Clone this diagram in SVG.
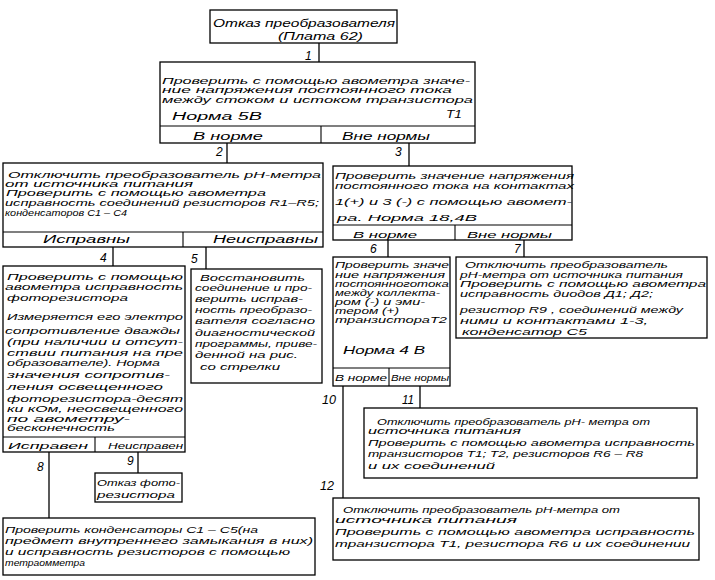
<svg xmlns="http://www.w3.org/2000/svg" width="715" height="580" viewBox="0 0 715 580">
<style>
.b{fill:#fff;stroke:#000;stroke-width:1.3}
.d{stroke:#000;stroke-width:1.1;fill:none}
.c{stroke:#000;stroke-width:1.3;fill:none}
text{font-family:"Liberation Sans","DejaVu Sans",sans-serif;font-style:italic;font-size:9px;fill:#000}
.n{font-size:12px}
</style>
<rect width="715" height="580" fill="#fff"/>

<g id="connectors">
<line class="c" x1="319" y1="43" x2="319" y2="62"/>
<line class="c" x1="227" y1="143" x2="227" y2="163"/>
<line class="c" x1="409" y1="143" x2="409" y2="166"/>
<line class="c" x1="113" y1="247" x2="113" y2="266"/>
<line class="c" x1="206" y1="247" x2="206" y2="269"/>
<line class="c" x1="388" y1="240" x2="388" y2="257"/>
<line class="c" x1="524" y1="240" x2="524" y2="257"/>
<line class="c" x1="343" y1="386" x2="343" y2="498"/>
<line class="c" x1="420" y1="386" x2="420" y2="408"/>
<line class="c" x1="49" y1="452" x2="49" y2="518"/>
<line class="c" x1="138" y1="452" x2="138" y2="473"/>
<text class="n" x="305" y="60">1</text>
<text class="n" x="216" y="156">2</text>
<text class="n" x="395" y="156">3</text>
<text class="n" x="100" y="262">4</text>
<text class="n" x="191" y="263">5</text>
<text class="n" x="370" y="253">6</text>
<text class="n" x="514" y="253">7</text>
<text class="n" x="37" y="471">8</text>
<text class="n" x="127" y="465">9</text>
<text class="n" x="322" y="404" textLength="14" lengthAdjust="spacingAndGlyphs">10</text>
<text class="n" x="402" y="404" textLength="12" lengthAdjust="spacingAndGlyphs">11</text>
<text class="n" x="320" y="490" textLength="14" lengthAdjust="spacingAndGlyphs">12</text>
</g>

<g id="node0">
<rect class="b" x="210" y="10" width="187" height="33"/>
<text x="213" y="27" textLength="182" lengthAdjust="spacingAndGlyphs" style="font-size:10px">Отказ преобразователя</text>
<text x="278" y="40" textLength="85" lengthAdjust="spacingAndGlyphs" style="font-size:10px">(Плата 62)</text>
</g>

<g id="node1">
<rect class="b" x="160" y="62" width="315" height="81"/>
<line class="d" x1="160" y1="126" x2="475" y2="126"/>
<line class="d" x1="321" y1="126" x2="321" y2="143"/>
<text x="162" y="84" textLength="308" lengthAdjust="spacingAndGlyphs">Проверить с помощью авометра значе-</text>
<text x="162" y="93" textLength="290" lengthAdjust="spacingAndGlyphs">ние напряжения постоянного тока</text>
<text x="162" y="103" textLength="311" lengthAdjust="spacingAndGlyphs">между стоком и истоком транзистора</text>
<text x="172" y="120" textLength="90" lengthAdjust="spacingAndGlyphs" style="font-size:10px">Норма  5В</text>
<text x="446" y="118" textLength="16" lengthAdjust="spacingAndGlyphs" style="font-size:11px">Т1</text>
<text x="193" y="140" textLength="70" lengthAdjust="spacingAndGlyphs" style="font-size:10px">В норме</text>
<text x="342" y="140" textLength="88" lengthAdjust="spacingAndGlyphs" style="font-size:10px">Вне нормы</text>
</g>

<g id="node2">
<rect class="b" x="3" y="163" width="320" height="84"/>
<line class="d" x1="3" y1="232" x2="323" y2="232"/>
<line class="d" x1="183" y1="232" x2="183" y2="247"/>
<text x="8" y="178" textLength="313" lengthAdjust="spacingAndGlyphs">Отключить преобразователь pH-метра</text>
<text x="5" y="187" textLength="188" lengthAdjust="spacingAndGlyphs">от источника питания</text>
<text x="6" y="196" textLength="260" lengthAdjust="spacingAndGlyphs">Проверить с помощью авометра</text>
<text x="5" y="206" textLength="314" lengthAdjust="spacingAndGlyphs">исправность соединений резисторов R1–R5;</text>
<text x="5" y="216" textLength="122" lengthAdjust="spacingAndGlyphs">конденсаторов C1 – C4</text>
<text x="43" y="243" textLength="87" lengthAdjust="spacingAndGlyphs" style="font-size:10px">Исправны</text>
<text x="213" y="243" textLength="105" lengthAdjust="spacingAndGlyphs" style="font-size:10px">Неисправны</text>
</g>

<g id="node3">
<rect class="b" x="333" y="166" width="239" height="74"/>
<line class="d" x1="333" y1="225" x2="572" y2="225"/>
<line class="d" x1="455" y1="225" x2="455" y2="240"/>
<text x="335" y="179" textLength="239" lengthAdjust="spacingAndGlyphs">Проверить значение напряжения</text>
<text x="335" y="189" textLength="239" lengthAdjust="spacingAndGlyphs">постоянного тока на контактах</text>
<text x="335" y="205" textLength="237" lengthAdjust="spacingAndGlyphs">1(+) и 3 (-) с помощью авомет-</text>
<text x="337" y="221" textLength="140" lengthAdjust="spacingAndGlyphs">ра.  Норма   18,4В</text>
<text x="353" y="238" textLength="64" lengthAdjust="spacingAndGlyphs">В норме</text>
<text x="467" y="238" textLength="85" lengthAdjust="spacingAndGlyphs">Вне нормы</text>
</g>

<g id="node4">
<rect class="b" x="3" y="266" width="182" height="186"/>
<line class="d" x1="3" y1="437" x2="185" y2="437"/>
<line class="d" x1="95" y1="437" x2="95" y2="452"/>
<text x="7" y="280" textLength="176" lengthAdjust="spacingAndGlyphs">Проверить с помощью</text>
<text x="5" y="290" textLength="178" lengthAdjust="spacingAndGlyphs">авометра исправность</text>
<text x="7" y="301" textLength="121" lengthAdjust="spacingAndGlyphs">фоторезистора</text>
<text x="7" y="320" textLength="176" lengthAdjust="spacingAndGlyphs">Измеряется его электро</text>
<text x="5" y="334" textLength="175" lengthAdjust="spacingAndGlyphs">сопротивление дважды</text>
<text x="7" y="345" textLength="176" lengthAdjust="spacingAndGlyphs">(при наличии и отсут-</text>
<text x="7" y="356" textLength="176" lengthAdjust="spacingAndGlyphs">ствии питания на пре</text>
<text x="7" y="366" textLength="153" lengthAdjust="spacingAndGlyphs">образователе). Норма</text>
<text x="7" y="378" textLength="163" lengthAdjust="spacingAndGlyphs">значения сопротив-</text>
<text x="7" y="390" textLength="156" lengthAdjust="spacingAndGlyphs">ления освещенного</text>
<text x="7" y="402" textLength="176" lengthAdjust="spacingAndGlyphs">фоторезистора-десят</text>
<text x="7" y="412" textLength="176" lengthAdjust="spacingAndGlyphs">ки кОм, неосвещенного</text>
<text x="7" y="422" textLength="123" lengthAdjust="spacingAndGlyphs">по авометру-</text>
<text x="7" y="431" textLength="108" lengthAdjust="spacingAndGlyphs">бесконечность</text>
<text x="8" y="449" textLength="80" lengthAdjust="spacingAndGlyphs">Исправен</text>
<text x="108" y="449" textLength="75" lengthAdjust="spacingAndGlyphs">Неисправен</text>
</g>

<g id="node5">
<rect class="b" x="191" y="269" width="131" height="114"/>
<text x="200" y="281" textLength="105" lengthAdjust="spacingAndGlyphs">Восстановить</text>
<text x="195" y="291" textLength="117" lengthAdjust="spacingAndGlyphs">соединение и про-</text>
<text x="195" y="302" textLength="108" lengthAdjust="spacingAndGlyphs">верить исправ-</text>
<text x="195" y="313" textLength="117" lengthAdjust="spacingAndGlyphs">ность преобразо-</text>
<text x="195" y="324" textLength="120" lengthAdjust="spacingAndGlyphs">вателя согласно</text>
<text x="195" y="336" textLength="120" lengthAdjust="spacingAndGlyphs">диагностической</text>
<text x="195" y="347" textLength="122" lengthAdjust="spacingAndGlyphs">программы, приве-</text>
<text x="195" y="358" textLength="103" lengthAdjust="spacingAndGlyphs">денной на рис.</text>
<text x="200" y="370" textLength="80" lengthAdjust="spacingAndGlyphs">со стрелки</text>
</g>

<g id="node6">
<rect class="b" x="333" y="257" width="117" height="129"/>
<line class="d" x1="333" y1="368" x2="450" y2="368"/>
<line class="d" x1="389" y1="368" x2="389" y2="386"/>
<text x="335" y="268" textLength="114" lengthAdjust="spacingAndGlyphs">Проверить значе</text>
<text x="335" y="278" textLength="110" lengthAdjust="spacingAndGlyphs">ние напряжения</text>
<text x="335" y="287" textLength="114" lengthAdjust="spacingAndGlyphs">постоянноготока</text>
<text x="335" y="296" textLength="105" lengthAdjust="spacingAndGlyphs">между коллекта-</text>
<text x="335" y="305" textLength="90" lengthAdjust="spacingAndGlyphs">ром (-) и эми-</text>
<text x="335" y="314" textLength="64" lengthAdjust="spacingAndGlyphs">тером (+)</text>
<text x="335" y="323" textLength="112" lengthAdjust="spacingAndGlyphs">транзистораТ2</text>
<text x="343" y="354" textLength="82" lengthAdjust="spacingAndGlyphs" style="font-size:10.5px">Норма   4 В</text>
<text x="335" y="381" textLength="52" lengthAdjust="spacingAndGlyphs">В норме</text>
<text x="391" y="381" textLength="58" lengthAdjust="spacingAndGlyphs">Вне нормы</text>
</g>

<g id="node7">
<rect class="b" x="456" y="257" width="251" height="81"/>
<text x="465" y="268" textLength="203" lengthAdjust="spacingAndGlyphs">Отключить преобразователь</text>
<text x="460" y="278" textLength="223" lengthAdjust="spacingAndGlyphs">pH-метра от источника питания</text>
<text x="460" y="287" textLength="246" lengthAdjust="spacingAndGlyphs">Проверить с помощью авометра</text>
<text x="460" y="297" textLength="193" lengthAdjust="spacingAndGlyphs">исправность диодов Д1; Д2;</text>
<text x="460" y="313" textLength="223" lengthAdjust="spacingAndGlyphs">резистор R9 , соединений между</text>
<text x="460" y="324" textLength="188" lengthAdjust="spacingAndGlyphs">ними и контактами 1-3,</text>
<text x="462" y="335" textLength="125" lengthAdjust="spacingAndGlyphs">конденсатор  С5</text>
</g>

<g id="node11">
<rect class="b" x="364" y="408" width="333" height="70"/>
<text x="377" y="425" textLength="273" lengthAdjust="spacingAndGlyphs">Отключить преобразователь pH- метра от</text>
<text x="368" y="434" textLength="153" lengthAdjust="spacingAndGlyphs">источника питания</text>
<text x="368" y="446" textLength="327" lengthAdjust="spacingAndGlyphs">Проверить с помощью авометра исправность</text>
<text x="368" y="457" textLength="275" lengthAdjust="spacingAndGlyphs">транзисторов T1; T2, резисторов R6 – R8</text>
<text x="368" y="469" textLength="127" lengthAdjust="spacingAndGlyphs">и их соединений</text>
</g>

<g id="node12">
<rect class="b" x="333" y="498" width="366" height="62"/>
<text x="343" y="513" textLength="277" lengthAdjust="spacingAndGlyphs">Отключить преобразователь pH-метра от</text>
<text x="335" y="523" textLength="182" lengthAdjust="spacingAndGlyphs">источника питания</text>
<text x="335" y="535" textLength="360" lengthAdjust="spacingAndGlyphs">Проверить с помощью авометра исправность</text>
<text x="335" y="547" textLength="355" lengthAdjust="spacingAndGlyphs">транзистора T1, резистора R6 и их соединении</text>
</g>

<g id="node8">
<rect class="b" x="3" y="518" width="312" height="57"/>
<text x="5" y="533" textLength="253" lengthAdjust="spacingAndGlyphs">Проверить конденсаторы C1 – C5(на</text>
<text x="5" y="544" textLength="308" lengthAdjust="spacingAndGlyphs">предмет внутреннего замыкания в них)</text>
<text x="5" y="555" textLength="285" lengthAdjust="spacingAndGlyphs">и исправность резисторов с помощью</text>
<text x="5" y="566" textLength="80" lengthAdjust="spacingAndGlyphs">тетраомметра</text>
</g>

<g id="node9">
<rect class="b" x="95" y="473" width="87" height="29"/>
<text x="97" y="486" textLength="83" lengthAdjust="spacingAndGlyphs">Отказ фото-</text>
<text x="97" y="498" textLength="78" lengthAdjust="spacingAndGlyphs">резистора</text>
</g>
</svg>
